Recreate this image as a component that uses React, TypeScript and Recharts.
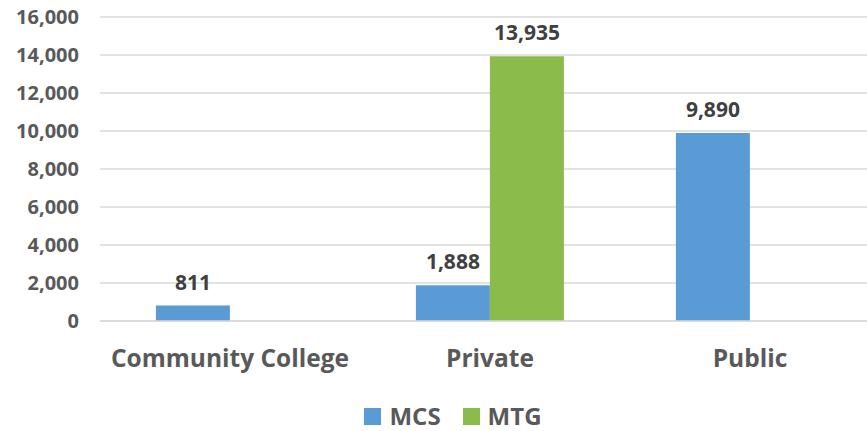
import { Bar, BarChart, CartesianGrid, LabelList, Legend, XAxis, YAxis } from "recharts";

const categories = ["Community College", "Private", "Public"];
const mcsValues = [811, 1888, 9890];
const mtgValues: (number | null)[] = [null, 13935, null];
const yTicks = [0, 2000, 4000, 6000, 8000, 10000, 12000, 14000, 16000];

const data = categories.map((name, i) => ({
  name,
  MCS: mcsValues[i],
  MTG: mtgValues[i],
}));

const font = "'Open Sans', 'Liberation Sans', sans-serif";
const fmt = (v: number) => v.toLocaleString("en-US");

function LegendBox({ payload }: any) {
  return (
    <div
      style={{
        height: 40,
        display: "flex",
        justifyContent: "center",
        alignItems: "flex-end",
        gap: 22,
        paddingLeft: 26,
        paddingBottom: 2,
        boxSizing: "border-box",
      }}
    >
      {(payload || []).map((p: any) => (
        <div key={p.value} style={{ display: "flex", alignItems: "center", gap: 8, height: 26 }}>
          <span style={{ display: "inline-block", width: 17, height: 17, background: p.color }} />
          <span style={{ color: "#595959", fontSize: 24, fontWeight: 700, fontFamily: font, lineHeight: "26px" }}>
            {p.value}
          </span>
        </div>
      ))}
    </div>
  );
}

export default function App() {
  return (
    <div
      style={{
        position: "absolute",
        left: 0,
        top: 0,
        width: 867,
        height: 431,
        overflow: "hidden",
        background: "#fff",
        fontFamily: font,
      }}
    >
      <BarChart
        width={880}
        height={431}
        data={data}
        margin={{ top: 17, right: 0, bottom: 0, left: 0 }}
        barCategoryGap="21.5%"
        barGap={0}
      >
        <CartesianGrid stroke="#D9D9D9" strokeWidth={1.5} vertical={false} />
        <XAxis
          dataKey="name"
          axisLine={{ stroke: "#D9D9D9", strokeWidth: 1.5 }}
          tickLine={false}
          tickMargin={23}
          height={70}
          tick={{ fill: "#595959", fontSize: 24.5, fontWeight: 700, fontFamily: font }}
        />
        <YAxis
          domain={[0, 16000]}
          ticks={yTicks}
          axisLine={false}
          tickLine={false}
          width={100}
          tickMargin={15}
          tickFormatter={fmt}
          tick={{ fill: "#595959", fontSize: 20, fontWeight: 700, fontFamily: font }}
        />
        <Legend verticalAlign="bottom" height={40} content={<LegendBox />} />
        <Bar dataKey="MCS" fill="#5B9BD5" isAnimationActive={false}>
          <LabelList
            dataKey="MCS"
            position="top"
            offset={16}
            formatter={(v) => (v == null ? "" : fmt(Number(v)))}
            style={{ fill: "#404040", fontSize: 21, fontWeight: 700, fontFamily: font }}
          />
        </Bar>
        <Bar dataKey="MTG" fill="#8BBB4A" isAnimationActive={false}>
          <LabelList
            dataKey="MTG"
            position="top"
            offset={16}
            formatter={(v) => (v == null ? "" : fmt(Number(v)))}
            style={{ fill: "#404040", fontSize: 21, fontWeight: 700, fontFamily: font }}
          />
        </Bar>
      </BarChart>
    </div>
  );
}
